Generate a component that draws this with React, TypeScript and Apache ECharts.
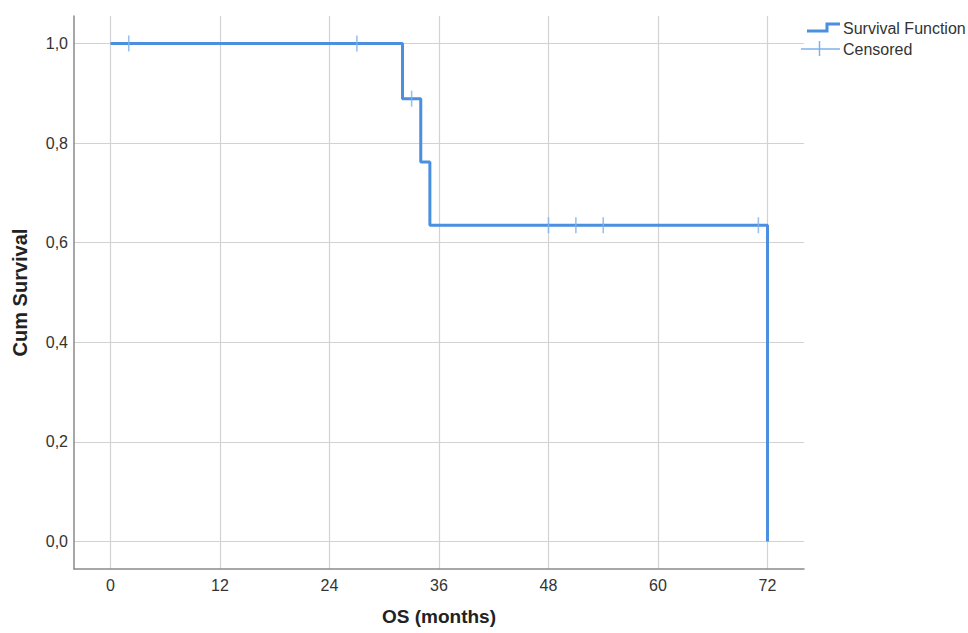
import React, { useEffect, useRef } from "react";
import * as echarts from "echarts";

const eventTimes = [0, 32, 34, 35, 72];
const survival = [1, 0.889, 0.762, 0.635, 0];
const censoredTimes = [2, 27, 33, 48, 51, 54, 71];
const censoredSurvival = [1, 1, 0.889, 0.635, 0.635, 0.635, 0.635];
const xTicks = [0, 12, 24, 36, 48, 60, 72];
const yTicks = [0, 0.2, 0.4, 0.6, 0.8, 1.0];
const legendNames = ["Survival Function", "Censored"];

const LINE_COLOR = "#4a8fe0";
const CENS_COLOR = "#7fb1ea";
const FONT = "Liberation Sans, Arial, sans-serif";

export default function App() {
  const ref = useRef<HTMLDivElement>(null);
  useEffect(() => {
    if (!ref.current) return;
    const chart = echarts.init(ref.current, null, { renderer: "svg" });
    const lineData = eventTimes.map((t, i) => [t, survival[i]]);
    const censData = censoredTimes.map((t, i) => [t, censoredSurvival[i]]);
    chart.setOption({
      animation: false,
      backgroundColor: "#ffffff",
      textStyle: { fontFamily: FONT },
      grid: {
        left: 74,
        right: 164,
        top: 16,
        bottom: 64,
        containLabel: false,
        outerBoundsMode: "none",
      },
      xAxis: {
        type: "value",
        min: -4,
        max: 76,
        name: "OS (months)",
        nameLocation: "middle",
        nameGap: 38,
        nameTextStyle: { fontSize: 19, fontWeight: "bold", color: "#222", fontFamily: FONT },
        axisLine: { show: true, onZero: false, lineStyle: { color: "#8a8a8a", width: 1.5 } },
        axisTick: { show: false, customValues: xTicks },
        axisLabel: {
          customValues: xTicks,
          fontSize: 16,
          color: "#333",
          margin: 8,
          fontFamily: FONT,
        },
        splitLine: { show: true, lineStyle: { color: "#d2d2d2", width: 1.2 } },
      },
      yAxis: {
        type: "value",
        min: -0.055,
        max: 1.055,
        name: "Cum Survival",
        nameLocation: "middle",
        nameGap: 44,
        nameTextStyle: { fontSize: 20, fontWeight: "bold", color: "#222", fontFamily: FONT },
        axisLine: { show: true, onZero: false, lineStyle: { color: "#8a8a8a", width: 1.5 } },
        axisTick: { show: false, customValues: yTicks },
        axisLabel: {
          customValues: yTicks,
          fontSize: 16,
          color: "#333",
          margin: 6,
          fontFamily: FONT,
          formatter: (v: number) => v.toFixed(1).replace(".", ","),
        },
        splitLine: { show: true, lineStyle: { color: "#d2d2d2", width: 1.2 } },
      },
      series: [
        {
          name: legendNames[0],
          type: "line",
          step: "end",
          data: lineData,
          showSymbol: false,
          symbol: "none",
          lineStyle: { color: LINE_COLOR, width: 3 },
          itemStyle: { color: LINE_COLOR },
          z: 3,
        },
        {
          name: legendNames[1],
          type: "scatter",
          data: censData,
          symbol: "rect",
          symbolSize: [1.6, 16],
          itemStyle: { color: CENS_COLOR },
          z: 4,
        },
      ],
      graphic: [
        {
          type: "polyline",
          shape: { points: [[807, 31], [827, 31], [827, 24], [840, 24]] },
          style: { stroke: LINE_COLOR, lineWidth: 3, fill: "none" },
        },
        {
          type: "text",
          x: 843,
          y: 28,
          style: { text: legendNames[0], fontSize: 16, fill: "#333", fontFamily: FONT, verticalAlign: "middle" },
        },
        {
          type: "line",
          shape: { x1: 801, y1: 49, x2: 840, y2: 49 },
          style: { stroke: CENS_COLOR, lineWidth: 1.5 },
        },
        {
          type: "line",
          shape: { x1: 819.5, y1: 41, x2: 819.5, y2: 56 },
          style: { stroke: CENS_COLOR, lineWidth: 1.5 },
        },
        {
          type: "text",
          x: 843,
          y: 49,
          style: { text: legendNames[1], fontSize: 16, fill: "#333", fontFamily: FONT, verticalAlign: "middle" },
        },
      ],
    });
    return () => chart.dispose();
  }, []);
  return <div ref={ref} style={{ width: 968, height: 633, position: "absolute", left: 0, top: 0 }} />;
}
